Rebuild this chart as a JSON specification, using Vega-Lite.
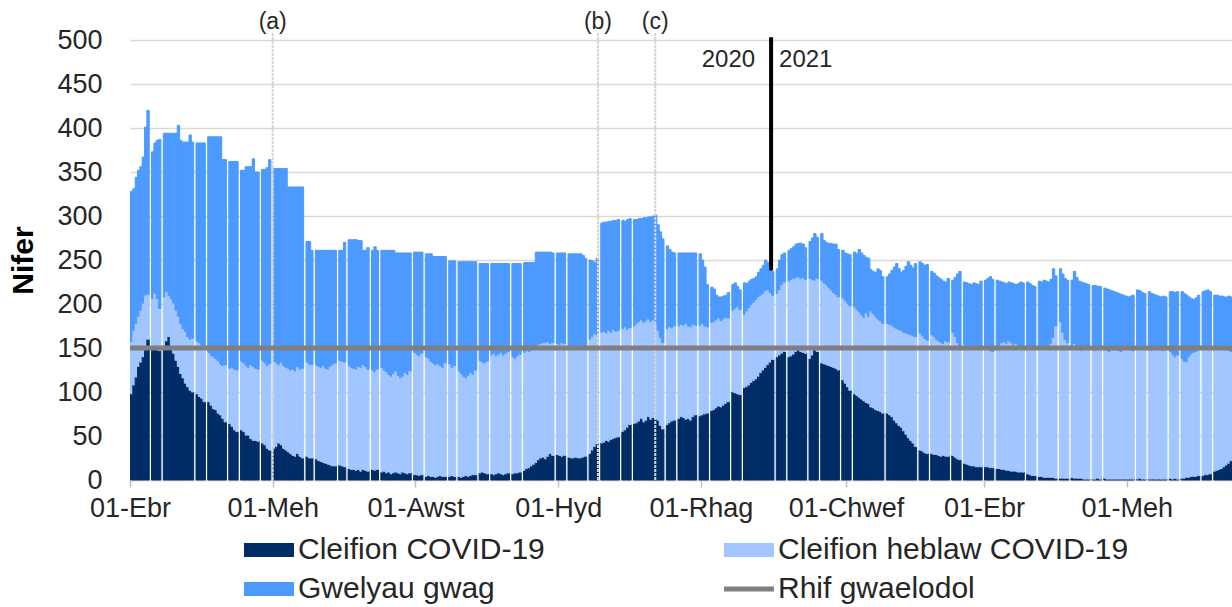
{
"$schema":"https://vega.github.io/schema/vega-lite/v6.json",
"width":1102,"height":440,
"autosize":{"type":"none"},
"padding":{"left":130,"top":40,"right":0,"bottom":127},
"background":"white",
"config":{"font":"Liberation Sans","view":{"stroke":null}},
"datasets":{"beds":[
{"d":"2020-04-01","a":98,"b":59,"c":171},{"d":"2020-04-02","a":108,"b":62,"c":161},{"d":"2020-04-03","a":117,"b":61,"c":166},{"d":"2020-04-04","a":129,"b":57,"c":166},{"d":"2020-04-05","a":134,"b":59,"c":163},{"d":"2020-04-06","a":140,"b":61,"c":166},{"d":"2020-04-07","a":148,"b":62,"c":191},{"d":"2020-04-08","a":160,"b":51,"c":209},
{"d":"2020-04-10","a":152,"b":54,"c":167},{"d":"2020-04-11","a":150,"b":62,"c":171},{"d":"2020-04-12","a":148,"b":58,"c":180},{"d":"2020-04-13","a":147,"b":48,"c":192},
{"d":"2020-04-15","a":152,"b":56,"c":186},{"d":"2020-04-16","a":158,"b":56,"c":180},{"d":"2020-04-17","a":163,"b":47,"c":184},{"d":"2020-04-18","a":153,"b":53,"c":188},{"d":"2020-04-19","a":144,"b":57,"c":193},{"d":"2020-04-20","a":136,"b":57,"c":201},{"d":"2020-04-21","a":129,"b":57,"c":217},{"d":"2020-04-22","a":121,"b":57,"c":208},{"d":"2020-04-23","a":116,"b":56,"c":212},{"d":"2020-04-24","a":110,"b":59,"c":215},{"d":"2020-04-25","a":106,"b":57,"c":221},{"d":"2020-04-26","a":102,"b":58,"c":232},{"d":"2020-04-27","a":100,"b":61,"c":223},
{"d":"2020-04-29","a":98,"b":60,"c":225},{"d":"2020-04-30","a":95,"b":61,"c":227},{"d":"2020-05-01","a":93,"b":60,"c":230},{"d":"2020-05-02","a":89,"b":61,"c":233},
{"d":"2020-05-04","a":89,"b":56,"c":245},{"d":"2020-05-05","a":85,"b":57,"c":248},{"d":"2020-05-06","a":81,"b":59,"c":250},{"d":"2020-05-07","a":80,"b":58,"c":252},{"d":"2020-05-08","a":76,"b":60,"c":254},{"d":"2020-05-09","a":74,"b":58,"c":258},{"d":"2020-05-10","a":70,"b":60,"c":234},{"d":"2020-05-11","a":66,"b":65,"c":233},
{"d":"2020-05-13","a":64,"b":63,"c":235},{"d":"2020-05-14","a":61,"b":67,"c":234},{"d":"2020-05-15","a":57,"b":69,"c":236},{"d":"2020-05-16","a":55,"b":70,"c":237},
{"d":"2020-05-18","a":57,"b":78,"c":217},{"d":"2020-05-19","a":55,"b":78,"c":219},{"d":"2020-05-20","a":51,"b":79,"c":226},{"d":"2020-05-21","a":51,"b":77,"c":228},{"d":"2020-05-22","a":47,"b":84,"c":225},{"d":"2020-05-23","a":45,"b":84,"c":236},{"d":"2020-05-24","a":45,"b":82,"c":223},{"d":"2020-05-25","a":44,"b":82,"c":224},
{"d":"2020-05-27","a":42,"b":94,"c":217},{"d":"2020-05-28","a":40,"b":93,"c":220},{"d":"2020-05-29","a":36,"b":94,"c":225},{"d":"2020-05-30","a":34,"b":98,"c":232},
{"d":"2020-06-01","a":36,"b":99,"c":219},{"d":"2020-06-02","a":38,"b":95,"c":221},{"d":"2020-06-03","a":42,"b":89,"c":223},{"d":"2020-06-04","a":40,"b":94,"c":220},{"d":"2020-06-05","a":36,"b":94,"c":224},{"d":"2020-06-06","a":34,"b":94,"c":226},{"d":"2020-06-07","a":32,"b":95,"c":206},{"d":"2020-06-08","a":30,"b":95,"c":208},{"d":"2020-06-09","a":28,"b":98,"c":207},{"d":"2020-06-10","a":27,"b":97,"c":209},{"d":"2020-06-11","a":30,"b":99,"c":204},{"d":"2020-06-12","a":27,"b":99,"c":207},{"d":"2020-06-13","a":25,"b":102,"c":206},
{"d":"2020-06-15","a":27,"b":107,"c":137},{"d":"2020-06-16","a":25,"b":107,"c":139},{"d":"2020-06-17","a":25,"b":106,"c":130},
{"d":"2020-06-19","a":24,"b":107,"c":130},{"d":"2020-06-20","a":22,"b":107,"c":132},{"d":"2020-06-21","a":21,"b":107,"c":133},{"d":"2020-06-22","a":20,"b":110,"c":131},{"d":"2020-06-23","a":19,"b":108,"c":134},{"d":"2020-06-24","a":18,"b":108,"c":135},{"d":"2020-06-25","a":17,"b":112,"c":132},{"d":"2020-06-26","a":16,"b":115,"c":130},{"d":"2020-06-27","a":16,"b":117,"c":128},
{"d":"2020-06-29","a":17,"b":119,"c":125},{"d":"2020-06-30","a":16,"b":119,"c":126},{"d":"2020-07-01","a":15,"b":119,"c":136},
{"d":"2020-07-03","a":13,"b":117,"c":143},{"d":"2020-07-04","a":12,"b":116,"c":145},{"d":"2020-07-05","a":12,"b":115,"c":146},{"d":"2020-07-06","a":11,"b":115,"c":147},{"d":"2020-07-07","a":12,"b":117,"c":143},{"d":"2020-07-08","a":10,"b":118,"c":144},{"d":"2020-07-09","a":12,"b":119,"c":130},{"d":"2020-07-10","a":11,"b":118,"c":132},{"d":"2020-07-11","a":10,"b":116,"c":138},
{"d":"2020-07-13","a":12,"b":113,"c":136},{"d":"2020-07-14","a":11,"b":112,"c":142},{"d":"2020-07-15","a":12,"b":114,"c":135},
{"d":"2020-07-17","a":9,"b":119,"c":133},{"d":"2020-07-18","a":10,"b":115,"c":136},{"d":"2020-07-19","a":8,"b":115,"c":138},{"d":"2020-07-20","a":9,"b":111,"c":141},{"d":"2020-07-21","a":7,"b":111,"c":143},{"d":"2020-07-22","a":8,"b":113,"c":140},{"d":"2020-07-23","a":9,"b":115,"c":134},{"d":"2020-07-24","a":8,"b":111,"c":139},{"d":"2020-07-25","a":7,"b":109,"c":142},{"d":"2020-07-26","a":9,"b":109,"c":140},{"d":"2020-07-27","a":8,"b":114,"c":136},{"d":"2020-07-28","a":7,"b":113,"c":138},{"d":"2020-07-29","a":8,"b":116,"c":134},
{"d":"2020-07-31","a":6,"b":139,"c":114},{"d":"2020-08-01","a":6,"b":137,"c":116},{"d":"2020-08-02","a":5,"b":136,"c":118},{"d":"2020-08-03","a":6,"b":138,"c":115},
{"d":"2020-08-05","a":4,"b":136,"c":117},{"d":"2020-08-06","a":5,"b":133,"c":119},{"d":"2020-08-07","a":4,"b":131,"c":122},{"d":"2020-08-08","a":4,"b":129,"c":121},{"d":"2020-08-09","a":3,"b":128,"c":123},{"d":"2020-08-10","a":4,"b":128,"c":122},{"d":"2020-08-11","a":5,"b":125,"c":124},{"d":"2020-08-12","a":4,"b":124,"c":126},{"d":"2020-08-13","a":4,"b":129,"c":121},
{"d":"2020-08-15","a":4,"b":128,"c":117},{"d":"2020-08-16","a":5,"b":123,"c":121},{"d":"2020-08-17","a":4,"b":126,"c":119},
{"d":"2020-08-19","a":4,"b":120,"c":124},{"d":"2020-08-20","a":3,"b":118,"c":127},{"d":"2020-08-21","a":4,"b":114,"c":130},{"d":"2020-08-22","a":5,"b":111,"c":132},{"d":"2020-08-23","a":4,"b":115,"c":129},{"d":"2020-08-24","a":5,"b":117,"c":126},{"d":"2020-08-25","a":6,"b":114,"c":128},{"d":"2020-08-26","a":6,"b":119,"c":123},
{"d":"2020-08-28","a":8,"b":128,"c":110},{"d":"2020-08-29","a":9,"b":125,"c":112},{"d":"2020-08-30","a":8,"b":125,"c":113},{"d":"2020-08-31","a":7,"b":128,"c":111},
{"d":"2020-09-02","a":7,"b":135,"c":104},{"d":"2020-09-03","a":6,"b":138,"c":102},{"d":"2020-09-04","a":7,"b":134,"c":105},{"d":"2020-09-05","a":8,"b":135,"c":103},{"d":"2020-09-06","a":7,"b":138,"c":101},{"d":"2020-09-07","a":6,"b":136,"c":104},{"d":"2020-09-08","a":7,"b":137,"c":102},{"d":"2020-09-09","a":8,"b":138,"c":100},
{"d":"2020-09-11","a":7,"b":133,"c":106},{"d":"2020-09-12","a":8,"b":130,"c":108},{"d":"2020-09-13","a":8,"b":133,"c":105},{"d":"2020-09-14","a":9,"b":134,"c":103},
{"d":"2020-09-16","a":11,"b":134,"c":102},{"d":"2020-09-17","a":13,"b":134,"c":100},{"d":"2020-09-18","a":14,"b":132,"c":101},{"d":"2020-09-19","a":16,"b":132,"c":99},{"d":"2020-09-20","a":18,"b":132,"c":97},{"d":"2020-09-21","a":20,"b":132,"c":107},{"d":"2020-09-22","a":23,"b":131,"c":105},{"d":"2020-09-23","a":25,"b":130,"c":104},{"d":"2020-09-24","a":26,"b":130,"c":103},{"d":"2020-09-25","a":24,"b":132,"c":103},{"d":"2020-09-26","a":27,"b":130,"c":102},{"d":"2020-09-27","a":30,"b":125,"c":104},{"d":"2020-09-28","a":28,"b":128,"c":102},
{"d":"2020-09-30","a":29,"b":126,"c":103},{"d":"2020-10-01","a":28,"b":126,"c":104},{"d":"2020-10-02","a":27,"b":129,"c":102},{"d":"2020-10-03","a":28,"b":127,"c":103},
{"d":"2020-10-05","a":26,"b":124,"c":107},{"d":"2020-10-06","a":25,"b":124,"c":108},{"d":"2020-10-07","a":25,"b":123,"c":109},{"d":"2020-10-08","a":26,"b":124,"c":107},{"d":"2020-10-09","a":25,"b":124,"c":108},{"d":"2020-10-10","a":25,"b":123,"c":109},{"d":"2020-10-11","a":26,"b":125,"c":104},{"d":"2020-10-12","a":27,"b":125,"c":100},
{"d":"2020-10-14","a":30,"b":130,"c":90},{"d":"2020-10-15","a":34,"b":129,"c":86},{"d":"2020-10-16","a":38,"b":128,"c":81},{"d":"2020-10-17","a":41,"b":124,"c":87},
{"d":"2020-10-19","a":42,"b":126,"c":124},{"d":"2020-10-20","a":43,"b":126,"c":124},{"d":"2020-10-21","a":45,"b":122,"c":126},{"d":"2020-10-22","a":44,"b":126,"c":124},{"d":"2020-10-23","a":46,"b":122,"c":126},{"d":"2020-10-24","a":47,"b":124,"c":124},{"d":"2020-10-25","a":48,"b":121,"c":126},{"d":"2020-10-26","a":49,"b":121,"c":126},
{"d":"2020-10-28","a":55,"b":117,"c":123},{"d":"2020-10-29","a":57,"b":117,"c":120},{"d":"2020-10-30","a":60,"b":111,"c":125},{"d":"2020-10-31","a":63,"b":110,"c":124},
{"d":"2020-11-02","a":64,"b":111,"c":121},{"d":"2020-11-03","a":65,"b":113,"c":118},{"d":"2020-11-04","a":67,"b":113,"c":117},{"d":"2020-11-05","a":70,"b":112,"c":115},{"d":"2020-11-06","a":66,"b":113,"c":119},{"d":"2020-11-07","a":68,"b":113,"c":117},{"d":"2020-11-08","a":72,"b":111,"c":116},{"d":"2020-11-09","a":69,"b":111,"c":119},{"d":"2020-11-10","a":71,"b":111,"c":118},{"d":"2020-11-11","a":70,"b":108,"c":123},{"d":"2020-11-12","a":68,"b":102,"c":120},{"d":"2020-11-13","a":62,"b":100,"c":120},{"d":"2020-11-14","a":58,"b":98,"c":118},
{"d":"2020-11-16","a":63,"b":109,"c":94},{"d":"2020-11-17","a":65,"b":109,"c":88},{"d":"2020-11-18","a":67,"b":106,"c":86},{"d":"2020-11-19","a":68,"b":107,"c":83},
{"d":"2020-11-21","a":70,"b":105,"c":83},{"d":"2020-11-22","a":72,"b":105,"c":81},{"d":"2020-11-23","a":71,"b":105,"c":82},{"d":"2020-11-24","a":69,"b":109,"c":80},{"d":"2020-11-25","a":70,"b":105,"c":83},{"d":"2020-11-26","a":68,"b":106,"c":84},{"d":"2020-11-27","a":72,"b":105,"c":81},{"d":"2020-11-28","a":74,"b":102,"c":82},
{"d":"2020-11-30","a":73,"b":103,"c":81},{"d":"2020-12-01","a":74,"b":104,"c":72},{"d":"2020-12-02","a":75,"b":100,"c":67},{"d":"2020-12-03","a":76,"b":98,"c":48},
{"d":"2020-12-05","a":79,"b":100,"c":40},{"d":"2020-12-06","a":80,"b":100,"c":37},{"d":"2020-12-07","a":82,"b":100,"c":28},{"d":"2020-12-08","a":84,"b":100,"c":24},{"d":"2020-12-09","a":83,"b":98,"c":27},{"d":"2020-12-10","a":85,"b":98,"c":26},{"d":"2020-12-11","a":87,"b":98,"c":25},{"d":"2020-12-12","a":89,"b":95,"c":29},
{"d":"2020-12-14","a":100,"b":93,"c":29},{"d":"2020-12-15","a":99,"b":96,"c":29},{"d":"2020-12-16","a":98,"b":99,"c":23},{"d":"2020-12-17","a":97,"b":97,"c":22},
{"d":"2020-12-19","a":105,"b":83,"c":36},{"d":"2020-12-20","a":106,"b":86,"c":31},{"d":"2020-12-21","a":108,"b":88,"c":30},{"d":"2020-12-22","a":111,"b":88,"c":29},{"d":"2020-12-23","a":113,"b":89,"c":27},{"d":"2020-12-24","a":115,"b":90,"c":26},{"d":"2020-12-25","a":118,"b":90,"c":28},{"d":"2020-12-26","a":122,"b":88,"c":30},{"d":"2020-12-27","a":125,"b":87,"c":32},{"d":"2020-12-28","a":128,"b":87,"c":35},{"d":"2020-12-29","a":131,"b":85,"c":31},{"d":"2020-12-30","a":134,"b":79,"c":30},{"d":"2020-12-31","a":137,"b":73,"c":27},
{"d":"2021-01-02","a":140,"b":72,"c":28},{"d":"2021-01-03","a":142,"b":74,"c":34},{"d":"2021-01-04","a":144,"b":78,"c":34},{"d":"2021-01-05","a":146,"b":79,"c":33},
{"d":"2021-01-07","a":140,"b":86,"c":35},{"d":"2021-01-08","a":141,"b":87,"c":35},{"d":"2021-01-09","a":143,"b":86,"c":36},{"d":"2021-01-10","a":146,"b":84,"c":38},{"d":"2021-01-11","a":148,"b":83,"c":38},{"d":"2021-01-12","a":146,"b":83,"c":40},{"d":"2021-01-13","a":145,"b":85,"c":38},{"d":"2021-01-14","a":144,"b":84,"c":36},
{"d":"2021-01-16","a":138,"b":91,"c":42},{"d":"2021-01-17","a":142,"b":86,"c":47},{"d":"2021-01-18","a":148,"b":79,"c":53},{"d":"2021-01-19","a":146,"b":83,"c":47},
{"d":"2021-01-21","a":133,"b":94,"c":53},{"d":"2021-01-22","a":132,"b":92,"c":48},{"d":"2021-01-23","a":131,"b":91,"c":48},{"d":"2021-01-24","a":130,"b":89,"c":50},{"d":"2021-01-25","a":129,"b":87,"c":53},{"d":"2021-01-26","a":128,"b":85,"c":55},{"d":"2021-01-27","a":127,"b":84,"c":57},{"d":"2021-01-28","a":125,"b":83,"c":54},
{"d":"2021-01-30","a":114,"b":93,"c":54},{"d":"2021-01-31","a":110,"b":94,"c":54},{"d":"2021-02-01","a":106,"b":95,"c":56},{"d":"2021-02-02","a":102,"b":96,"c":58},
{"d":"2021-02-04","a":98,"b":99,"c":62},{"d":"2021-02-05","a":96,"b":98,"c":63},{"d":"2021-02-06","a":94,"b":97,"c":71},{"d":"2021-02-07","a":92,"b":96,"c":70},{"d":"2021-02-08","a":90,"b":95,"c":70},{"d":"2021-02-09","a":88,"b":102,"c":63},{"d":"2021-02-10","a":87,"b":99,"c":66},{"d":"2021-02-11","a":83,"b":109,"c":47},{"d":"2021-02-12","a":82,"b":107,"c":48},{"d":"2021-02-13","a":80,"b":106,"c":50},{"d":"2021-02-14","a":79,"b":104,"c":57},{"d":"2021-02-15","a":78,"b":103,"c":57},{"d":"2021-02-16","a":76,"b":102,"c":53},
{"d":"2021-02-18","a":76,"b":102,"c":53},{"d":"2021-02-19","a":74,"b":103,"c":57},{"d":"2021-02-20","a":72,"b":104,"c":62},{"d":"2021-02-21","a":68,"b":106,"c":68},{"d":"2021-02-22","a":65,"b":107,"c":74},{"d":"2021-02-23","a":62,"b":109,"c":69},{"d":"2021-02-24","a":60,"b":110,"c":66},{"d":"2021-02-25","a":56,"b":112,"c":70},{"d":"2021-02-26","a":52,"b":115,"c":76},{"d":"2021-02-27","a":48,"b":118,"c":82},{"d":"2021-02-28","a":45,"b":120,"c":79},{"d":"2021-03-01","a":42,"b":122,"c":77},{"d":"2021-03-02","a":38,"b":125,"c":83},
{"d":"2021-03-04","a":34,"b":133,"c":81},{"d":"2021-03-05","a":33,"b":131,"c":82},{"d":"2021-03-06","a":31,"b":130,"c":83},{"d":"2021-03-07","a":30,"b":129,"c":86},
{"d":"2021-03-09","a":30,"b":135,"c":72},{"d":"2021-03-10","a":29,"b":134,"c":72},{"d":"2021-03-11","a":29,"b":131,"c":72},{"d":"2021-03-12","a":28,"b":130,"c":72},{"d":"2021-03-13","a":27,"b":129,"c":72},{"d":"2021-03-14","a":28,"b":127,"c":71},{"d":"2021-03-15","a":27,"b":131,"c":67},{"d":"2021-03-16","a":27,"b":130,"c":72},
{"d":"2021-03-18","a":28,"b":140,"c":59},{"d":"2021-03-19","a":26,"b":137,"c":67},{"d":"2021-03-20","a":24,"b":132,"c":78},{"d":"2021-03-21","a":23,"b":128,"c":86},
{"d":"2021-03-23","a":19,"b":135,"c":71},{"d":"2021-03-24","a":18,"b":134,"c":72},{"d":"2021-03-25","a":17,"b":133,"c":73},{"d":"2021-03-26","a":16,"b":133,"c":73},{"d":"2021-03-27","a":16,"b":132,"c":76},{"d":"2021-03-28","a":15,"b":135,"c":73},{"d":"2021-03-29","a":15,"b":137,"c":70},{"d":"2021-03-30","a":15,"b":134,"c":77},
{"d":"2021-04-01","a":15,"b":136,"c":76},{"d":"2021-04-02","a":15,"b":134,"c":80},{"d":"2021-04-03","a":14,"b":133,"c":84},{"d":"2021-04-04","a":14,"b":132,"c":82},
{"d":"2021-04-06","a":13,"b":137,"c":77},{"d":"2021-04-07","a":13,"b":135,"c":78},{"d":"2021-04-08","a":12,"b":144,"c":69},{"d":"2021-04-09","a":12,"b":145,"c":67},{"d":"2021-04-10","a":11,"b":144,"c":68},{"d":"2021-04-11","a":11,"b":147,"c":67},{"d":"2021-04-12","a":10,"b":146,"c":68},{"d":"2021-04-13","a":10,"b":144,"c":69},{"d":"2021-04-14","a":10,"b":145,"c":67},{"d":"2021-04-15","a":9,"b":144,"c":70},{"d":"2021-04-16","a":9,"b":143,"c":73},{"d":"2021-04-17","a":9,"b":141,"c":74},
{"d":"2021-04-19","a":7,"b":145,"c":73},{"d":"2021-04-20","a":6,"b":144,"c":73},{"d":"2021-04-21","a":5,"b":144,"c":72},{"d":"2021-04-22","a":5,"b":143,"c":72},
{"d":"2021-04-24","a":4,"b":146,"c":76},{"d":"2021-04-25","a":4,"b":145,"c":76},{"d":"2021-04-26","a":3,"b":148,"c":76},{"d":"2021-04-27","a":3,"b":149,"c":74},{"d":"2021-04-28","a":3,"b":147,"c":75},{"d":"2021-04-29","a":3,"b":152,"c":73},{"d":"2021-04-30","a":3,"b":159,"c":78},{"d":"2021-05-01","a":2,"b":173,"c":57},
{"d":"2021-05-03","a":2,"b":178,"c":60},{"d":"2021-05-04","a":2,"b":166,"c":66},{"d":"2021-05-05","a":2,"b":158,"c":69},{"d":"2021-05-06","a":2,"b":154,"c":71},
{"d":"2021-05-08","a":3,"b":147,"c":77},{"d":"2021-05-09","a":2,"b":153,"c":82},{"d":"2021-05-10","a":2,"b":150,"c":78},{"d":"2021-05-11","a":2,"b":146,"c":78},{"d":"2021-05-12","a":2,"b":145,"c":78},{"d":"2021-05-13","a":1,"b":148,"c":75},{"d":"2021-05-14","a":1,"b":149,"c":73},{"d":"2021-05-15","a":1,"b":151,"c":70},
{"d":"2021-05-17","a":1,"b":147,"c":73},{"d":"2021-05-18","a":1,"b":146,"c":74},{"d":"2021-05-19","a":2,"b":148,"c":70},{"d":"2021-05-20","a":1,"b":148,"c":71},
{"d":"2021-05-22","a":2,"b":146,"c":70},{"d":"2021-05-23","a":1,"b":146,"c":70},{"d":"2021-05-24","a":1,"b":145,"c":70},{"d":"2021-05-25","a":1,"b":148,"c":66},{"d":"2021-05-26","a":1,"b":149,"c":64},{"d":"2021-05-27","a":1,"b":147,"c":65},{"d":"2021-05-28","a":1,"b":146,"c":65},{"d":"2021-05-29","a":1,"b":145,"c":65},{"d":"2021-05-30","a":1,"b":148,"c":61},{"d":"2021-05-31","a":1,"b":150,"c":58},{"d":"2021-06-01","a":1,"b":149,"c":58},{"d":"2021-06-02","a":1,"b":147,"c":61},{"d":"2021-06-03","a":1,"b":146,"c":63},
{"d":"2021-06-05","a":1,"b":148,"c":67},{"d":"2021-06-06","a":2,"b":146,"c":67},{"d":"2021-06-07","a":1,"b":149,"c":63},{"d":"2021-06-08","a":1,"b":150,"c":61},
{"d":"2021-06-10","a":1,"b":147,"c":66},{"d":"2021-06-11","a":1,"b":146,"c":65},{"d":"2021-06-12","a":1,"b":148,"c":62},{"d":"2021-06-13","a":1,"b":149,"c":60},{"d":"2021-06-14","a":1,"b":151,"c":57},{"d":"2021-06-15","a":1,"b":147,"c":60},{"d":"2021-06-16","a":1,"b":146,"c":62},{"d":"2021-06-17","a":1,"b":148,"c":59},
{"d":"2021-06-19","a":2,"b":144,"c":68},{"d":"2021-06-20","a":1,"b":142,"c":71},{"d":"2021-06-21","a":2,"b":138,"c":73},{"d":"2021-06-22","a":1,"b":141,"c":72},
{"d":"2021-06-24","a":2,"b":136,"c":76},{"d":"2021-06-25","a":2,"b":133,"c":77},{"d":"2021-06-26","a":3,"b":131,"c":76},{"d":"2021-06-27","a":3,"b":137,"c":68},{"d":"2021-06-28","a":4,"b":139,"c":63},{"d":"2021-06-29","a":4,"b":141,"c":60},{"d":"2021-06-30","a":4,"b":142,"c":61},{"d":"2021-07-01","a":5,"b":143,"c":62},
{"d":"2021-07-03","a":5,"b":145,"c":64},{"d":"2021-07-04","a":6,"b":146,"c":63},{"d":"2021-07-05","a":6,"b":143,"c":67},{"d":"2021-07-06","a":7,"b":144,"c":63},
{"d":"2021-07-08","a":10,"b":140,"c":60},{"d":"2021-07-09","a":11,"b":141,"c":58},{"d":"2021-07-10","a":12,"b":139,"c":58},{"d":"2021-07-11","a":13,"b":136,"c":60},{"d":"2021-07-12","a":15,"b":135,"c":58},{"d":"2021-07-13","a":17,"b":131,"c":60},{"d":"2021-07-14","a":19,"b":128,"c":62},{"d":"2021-07-15","a":22,"b":124,"c":62}
]},
"layer":[
{"data":{"name":"beds"},
 "transform":[{"fold":["a","b","c"],"as":["k","v"]}],
 "mark":{"type":"bar","strokeWidth":1,"binSpacing":0},
 "encoding":{
  "x":{"field":"d","timeUnit":"utcyearmonthdate","type":"temporal",
   "scale":{"type":"utc","domain":[{"year":2020,"month":4,"date":1,"utc":true},{"year":2021,"month":7,"date":16,"utc":true}]},
   "axis":{"title":null,"grid":false,
    "values":[{"year":2020,"month":4,"date":1,"utc":true},{"year":2020,"month":6,"date":1,"utc":true},{"year":2020,"month":8,"date":1,"utc":true},{"year":2020,"month":10,"date":1,"utc":true},{"year":2020,"month":12,"date":1,"utc":true},{"year":2021,"month":2,"date":1,"utc":true},{"year":2021,"month":4,"date":1,"utc":true},{"year":2021,"month":6,"date":1,"utc":true}],
    "labelExpr":"'01-' + ['Ion','Chwef','Maw','Ebr','Mai','Meh','Gorff','Awst','Medi','Hyd','Tach','Rhag'][utcmonth(datum.value)]",
    "tickSize":7,"tickColor":"#bfbfbf","tickWidth":1.5,"domainColor":"#d9d9d9","domainWidth":1.5,
    "labelFontSize":27,"labelColor":"#262626","labelPadding":8,"labelFlush":false,"labelOverlap":false}},
  "y":{"field":"v","type":"quantitative","stack":"zero","scale":{"domain":[0,500],"nice":false},
   "axis":{"title":"Nifer","titleFontSize":30,"titleFontWeight":"bold","titleColor":"#000000","titlePadding":18,
    "values":[0,50,100,150,200,250,300,350,400,450,500],"labelFontSize":27,"labelColor":"#262626","labelPadding":28,
    "domain":false,"ticks":false,"grid":true,"gridColor":"#d9d9d9","gridWidth":1.5}},
  "color":{"field":"k","type":"nominal",
   "scale":{"domain":["a","b","c","r"],"range":["#002C66","#A2C6FF","#4D9AFF","#7F7F7F"]},
   "legend":{"orient":"none","legendX":124,"legendY":495,"columns":2,"direction":"horizontal","columnPadding":169,"rowPadding":9,
    "title":null,"padding":0,"labelFontSize":30,"labelColor":"#262626","labelOffset":14,"labelLimit":600,"symbolSize":2500,
    "labelExpr":"datum.value==='a'?'Cleifion COVID-19':datum.value==='b'?'Cleifion heblaw COVID-19':datum.value==='c'?'Gwelyau gwag':'Rhif gwaelodol'",
    "encode":{"symbols":{"update":{
     "shape":{"signal":"datum.value==='r' ? 'M-1,0H1' : 'M-1,-0.28H1V0.28H-1Z'"},
     "fill":{"signal":"datum.value==='r' ? 'transparent' : datum.value==='a' ? '#002C66' : datum.value==='b' ? '#A2C6FF' : '#4D9AFF'"},
     "stroke":{"signal":"datum.value==='r' ? '#7F7F7F' : 'transparent'"},
     "strokeWidth":{"signal":"datum.value==='r' ? 5 : 0"},
     "opacity":{"value":1},"fillOpacity":{"value":1}}}}}},
  "stroke":{"field":"k","type":"nominal","scale":{"domain":["a","b","c","r"],"range":["#002C66","#A2C6FF","#4D9AFF","#7F7F7F"]},"legend":null},
  "order":{"field":"k","type":"nominal","sort":"ascending"}}},
{"data":{"values":[{"d":"2020-06-01"},{"d":"2020-10-18"},{"d":"2020-11-11T12:00:00Z"}]},
 "mark":{"type":"rule","color":"#d4d4d4","strokeWidth":2,"strokeDash":[3,1]},
 "encoding":{
  "x":{"field":"d","type":"temporal","scale":{"type":"utc"}},
  "y":{"datum":0,"type":"quantitative"},
  "y2":{"datum":508}}},
{"data":{"values":[{}]},
 "mark":{"type":"rule","strokeWidth":5},
 "encoding":{
  "y":{"datum":150,"type":"quantitative"},
  "color":{"datum":"r","type":"nominal"}}},
{"data":{"values":[{"d":"2020-12-31"}]},
 "mark":{"type":"rule","color":"#000000","strokeWidth":4},
 "encoding":{
  "x":{"field":"d","type":"temporal","scale":{"type":"utc"}},
  "y":{"datum":238,"type":"quantitative"},
  "y2":{"datum":503}}},
{"data":{"values":[{"d":"2020-06-01","t":"(a)"},{"d":"2020-10-18","t":"(b)"},{"d":"2020-11-11T12:00:00Z","t":"(c)"}]},
 "mark":{"type":"text","fontSize":23,"color":"#262626","baseline":"middle","align":"center"},
 "encoding":{
  "x":{"field":"d","type":"temporal","scale":{"type":"utc"}},
  "y":{"datum":520,"type":"quantitative"},
  "text":{"field":"t"}}},
{"data":{"values":[{"d":"2020-12-31","t":"2020"}]},
 "mark":{"type":"text","fontSize":24,"color":"#262626","baseline":"middle","align":"right","dx":-16},
 "encoding":{
  "x":{"field":"d","type":"temporal","scale":{"type":"utc"}},
  "y":{"datum":477,"type":"quantitative"},
  "text":{"field":"t"}}},
{"data":{"values":[{"d":"2020-12-31","t":"2021"}]},
 "mark":{"type":"text","fontSize":24,"color":"#262626","baseline":"middle","align":"left","dx":8},
 "encoding":{
  "x":{"field":"d","type":"temporal","scale":{"type":"utc"}},
  "y":{"datum":477,"type":"quantitative"},
  "text":{"field":"t"}}}
]
}
